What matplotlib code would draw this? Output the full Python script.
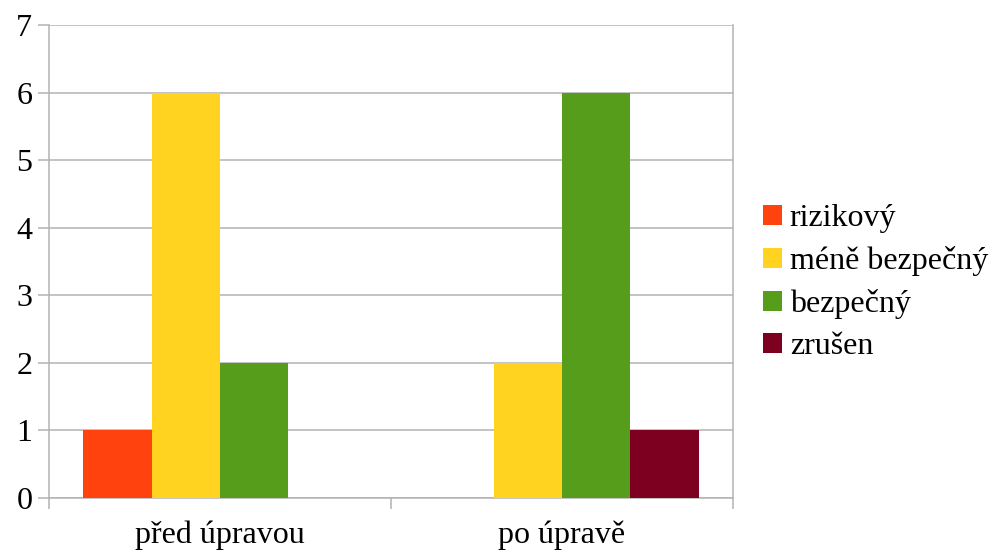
import matplotlib.pyplot as plt
from matplotlib.patches import Patch

categories = ['před úpravou', 'po úpravě']
series_names = ['rizikový', 'méně bezpečný', 'bezpečný', 'zrušen']
rizikovy = [1, 0]
mene_bezpecny = [6, 2]
bezpecny = [2, 6]
zrusen = [0, 1]
series_values = [rizikovy, mene_bezpecny, bezpecny, zrusen]
colors = ['#ff420e', '#ffd320', '#579d1c', '#7e0021']

plt.rcParams['font.family'] = ['Liberation Serif', 'DejaVu Serif']
grid_color = '#b3b3b3'
fs = 23

fig = plt.figure(figsize=(9.9, 5.51), dpi=100)
ax = fig.add_axes([0.0495, 0.0962, 0.6909, 0.8584])

width = 0.2
for i, vals in enumerate(series_values):
    xs = [c + (i - 1.5) * width for c in range(len(categories))]
    ax.bar(xs, vals, width=width, color=colors[i], linewidth=0, zorder=3)

ax.set_xlim(-0.5, 1.5)
ax.set_ylim(0, 7)
ax.set_yticks(range(8))
ax.yaxis.grid(True, color=grid_color, linewidth=1.1, zorder=0)

# category labels without marks, boundary ticks as minor ticks
ax.set_xticks(range(len(categories)))
ax.set_xticklabels(categories)
ax.set_xticks([-0.5, 0.5, 1.5], minor=True)
ax.tick_params(axis='x', which='major', length=0, pad=16, labelsize=fs)
ax.tick_params(axis='x', which='minor', length=8, width=1.1, color=grid_color)
ax.tick_params(axis='y', length=8, width=1.1, color=grid_color, labelsize=fs, pad=4)

ax.spines['top'].set_visible(False)
for s in ['left', 'right', 'bottom']:
    ax.spines[s].set_color(grid_color)
    ax.spines[s].set_linewidth(1.1)

handles = [Patch(facecolor=c, edgecolor='none') for c in colors]
fig.legend(handles, series_names, loc='center left', bbox_to_anchor=(0.771, 0.487),
           frameon=False, fontsize=fs, handlelength=0.58, handleheight=0.58,
           handletextpad=0.25, labelspacing=0.41, borderaxespad=0, borderpad=0)

fig.savefig('out.png', dpi=100)
